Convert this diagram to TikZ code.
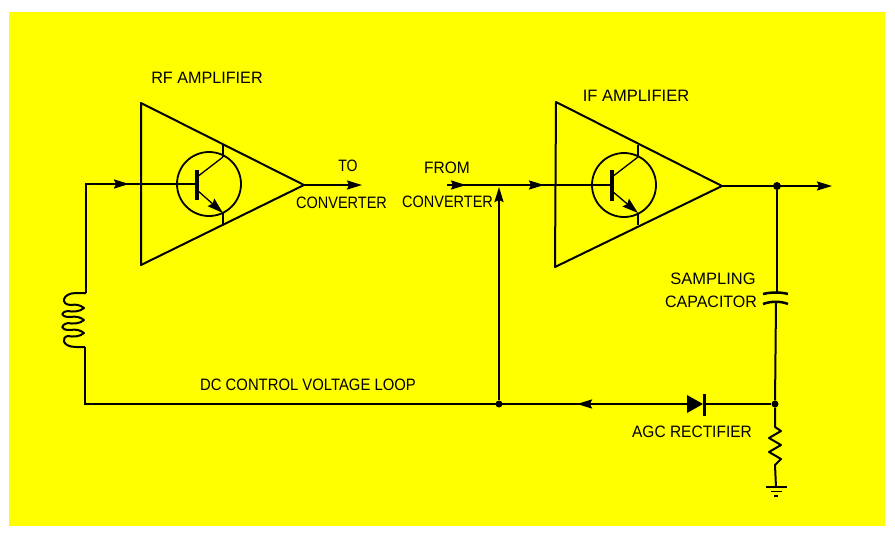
\documentclass[tikz,border=0pt]{standalone}
\usepackage{fontspec}
\setmainfont{Liberation Sans}
\usetikzlibrary{arrows.meta}
\definecolor{pagecol}{RGB}{255,255,0}
\tikzset{
  wire/.style={black,line width=2pt},
  thinwire/.style={black,line width=1.3pt},
  flow/.style={wire,-{Stealth[length=15pt,width=9pt,inset=2pt]}},
  emitter/.style={thinwire,-{Stealth[length=16pt,width=10pt,inset=2pt]}},
  caption/.style={font=\fontsize{16.5}{18}\selectfont,text=black,inner sep=0pt},
  junction/.style={circle,fill=black,inner sep=0pt,minimum size=7pt},
  casing/.style={draw=black,line width=1.8pt,circle,minimum size=64pt,inner sep=0pt}
}
\begin{document}
\begin{tikzpicture}[x=1pt,y=-1pt]
\useasboundingbox (0,0) rectangle (895,539);
\fill[white] (0,0) rectangle (895,539);
\fill[pagecol] (9,12) rectangle (885,526);

% rf stage
\coordinate (rftop) at (141,103);
\coordinate (rfbot) at (141,265);
\coordinate (rftip) at (304,185);
\draw[wire,line join=round] (rftop) -- (rftip) -- (rfbot) -- cycle;
\node[casing] (rfcase) at (209,184) {};
\coordinate (rfbarup) at (197,170);
\coordinate (rfbardn) at (197,200);
\coordinate (rfbase) at (197,184);
\coordinate (rfcol) at (223,157);
\coordinate (rfcolout) at (223,145);
\coordinate (rfem) at (223,213);
\coordinate (rfemout) at (223,224);
\draw[black,line width=3.5pt] (rfbarup) -- (rfbardn);
\draw[thinwire] (197,177) -- (rfcol);
\draw[wire] (rfcol) -- (rfcolout);
\draw[emitter] (197,190) -- (rfem);
\draw[wire] (rfem) -- (rfemout);

% if stage
\coordinate (iftop) at (556,102);
\coordinate (ifbot) at (555,267);
\coordinate (iftip) at (722,186);
\draw[wire,line join=round] (iftop) -- (iftip) -- (ifbot) -- cycle;
\node[casing] (ifcase) at (624,185) {};
\coordinate (ifbarup) at (612,170);
\coordinate (ifbardn) at (612,201);
\coordinate (ifbase) at (612,185);
\coordinate (ifcol) at (638,157);
\coordinate (ifcolout) at (638,145);
\coordinate (ifem) at (638,213);
\coordinate (ifemout) at (638,225);
\draw[black,line width=3.5pt] (ifbarup) -- (ifbardn);
\draw[thinwire] (612,177) -- (ifcol);
\draw[wire] (ifcol) -- (ifcolout);
\draw[emitter] (612,191) -- (ifem);
\draw[wire] (ifem) -- (ifemout);

% points on the lines
\coordinate (coilup) at (86,184);
\coordinate (rfhead) at (129,184);
\coordinate (coiltop) at (86,293);
\coordinate (coilbot) at (85,347);
\coordinate (loopleft) at (85,404);
\coordinate (rfout) at (362,185);
\coordinate (fromin) at (447,185);
\coordinate (fromhead) at (466,185);
\coordinate (ifhead) at (544,185);
\coordinate (feedhead) at (499,187);
\coordinate (ifout) at (832,186);
\coordinate (diodein) at (704,404);
\coordinate (diodeout) at (687,404);
\coordinate (loophead) at (577,404);
\coordinate (capup) at (777,293);
\coordinate (capdn) at (776,303);
\coordinate (restop) at (775,427);
\coordinate (resbot) at (775,465);
\coordinate (gnd) at (776,487);
\node[junction,minimum size=8pt] (outdot) at (777,186) {};
\node[junction] (feeddot) at (499,404) {};
\node[junction] (rectdot) at (775,404) {};

% signal path
\draw[wire] (coiltop) -- (coilup) -- (rfbase);
\draw[flow] (coilup) -- (rfhead);
\draw[flow] (rftip) -- (rfout);
\draw[wire] (fromin) -- (ifbase);
\draw[flow] (fromin) -- (fromhead);
\draw[flow] (fromhead) -- (ifhead);
\draw[flow] (iftip) -- (ifout);

% control loop
\draw[wire] (outdot) -- (capup);
\draw[wire] (capdn) -- (rectdot);
\draw[wire] (rectdot) -- (diodein);
\draw[wire] (diodeout) -- (loopleft) -- (coilbot);
\draw[flow] (diodeout) -- (loophead);
\draw[flow] (feeddot) -- (feedhead);

% capacitor
\draw[black,line width=2.5pt] (763,294) .. controls (771,292) and (781,292) .. (788,294);
\draw[black,line width=2.5pt] (763,304) .. controls (771,301) and (781,301) .. (788,304);

% diode
\fill[black] (687,395) -- (703,404) -- (687,413) -- cycle;
\draw[black,line width=3pt] (704,394) -- (704,416);

% coil
\draw[wire,line join=round] (coiltop) -- (76,293)
  .. controls (62,293) and (60,305) .. (71,305)
  .. controls (76,304) and (80,305) .. (84,308)
  .. controls (80,312) and (72,312) .. (68,311)
  .. controls (60,312) and (60,317) .. (70,317)
  .. controls (76,316) and (80,317) .. (84,320)
  .. controls (80,324) and (72,324) .. (68,323)
  .. controls (60,325) and (60,330) .. (70,330)
  .. controls (76,329) and (80,330) .. (84,333)
  .. controls (80,337) and (72,337) .. (68,336)
  .. controls (61,337) and (62,347) .. (76,347)
  -- (coilbot);

% resistor
\draw[wire,line join=round] (rectdot) -- (restop) -- (781,431) -- (769,438) -- (781,445) -- (769,452) -- (781,459) -- (resbot) -- (gnd);

% ground
\draw[wire] (766,487) -- (787,487);
\draw[thinwire] (771,491.5) -- (782,491.5);
\draw[thinwire] (774,496) -- (778,496);

% labels
\node[caption,xscale=.98] (rflabel) at (207,78) {RF AMPLIFIER};
\node[caption,xscale=.85] (tolabel) at (348,166) {TO};
\node[caption,xscale=.88] (toconv) at (341.5,203) {CONVERTER};
\node[caption,xscale=.94] (fromlabel) at (447,168) {FROM};
\node[caption,xscale=.88] (fromconv) at (447.5,202) {CONVERTER};
\node[caption] (iflabel) at (636,96) {IF AMPLIFIER};
\node[caption] (samplabel) at (713,279) {SAMPLING};
\node[caption,xscale=.97] (caplabel) at (711,302) {CAPACITOR};
\node[caption,xscale=.9] (looplabel) at (308,385) {DC CONTROL VOLTAGE LOOP};
\node[caption,xscale=.94] (agclabel) at (692,432) {AGC RECTIFIER};
\end{tikzpicture}
\end{document}
